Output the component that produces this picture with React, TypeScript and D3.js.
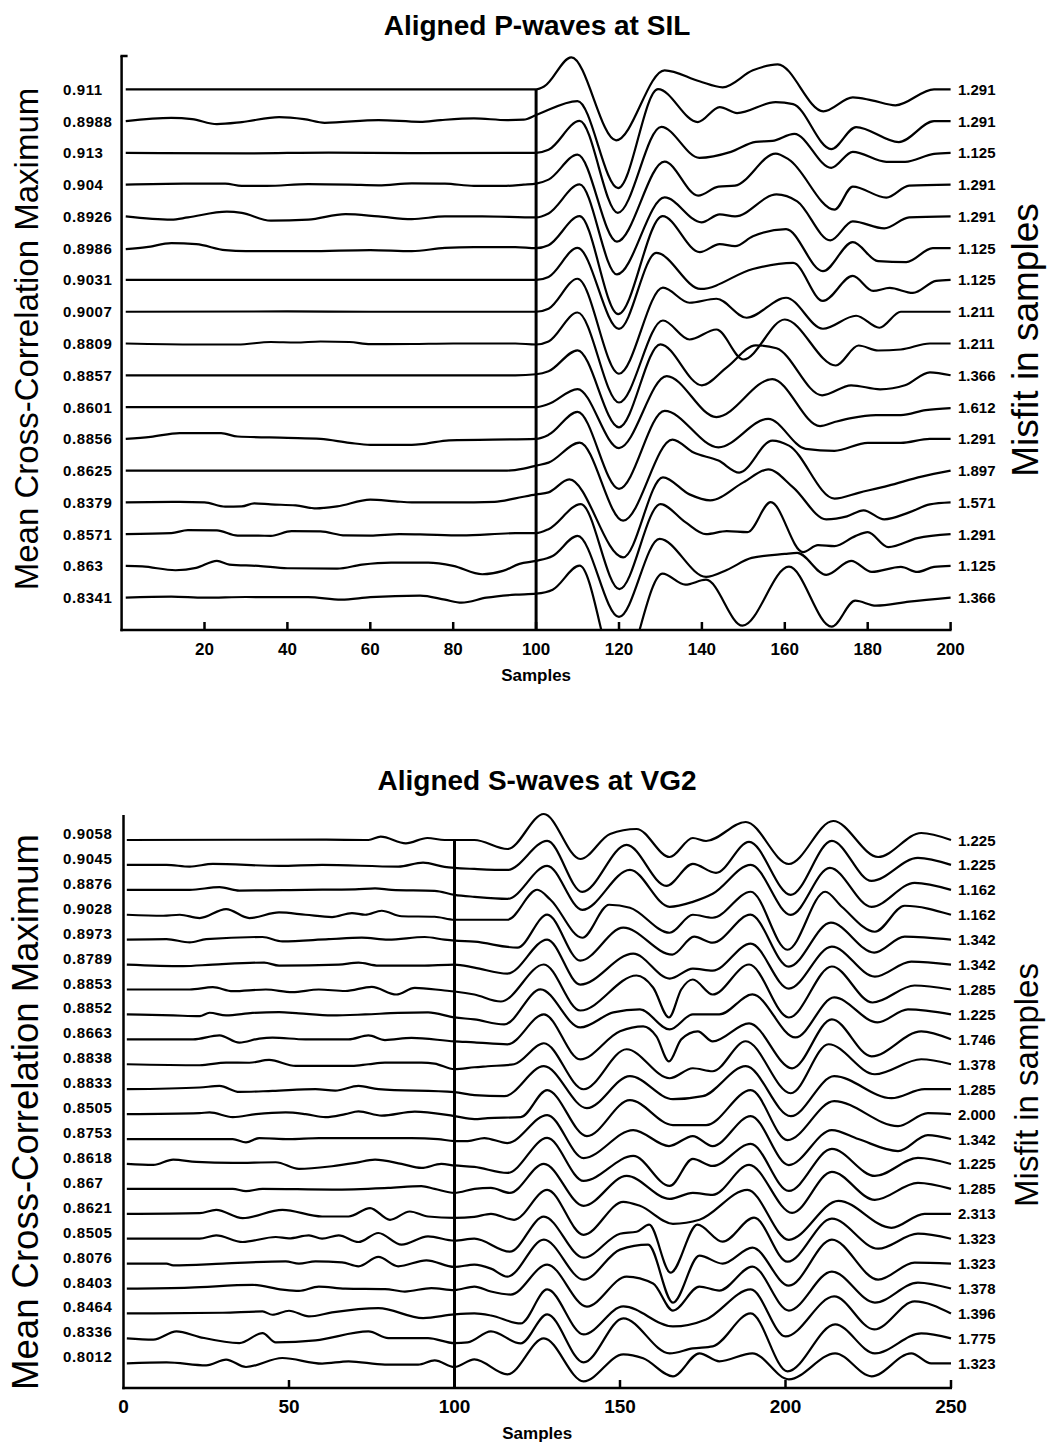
import React from 'react';
import * as d3 from 'd3';

type Pt = [number, number];

const FONT = "'Liberation Sans', Arial, Helvetica, sans-serif";

// ---------------- P-waves at SIL ----------------
const pTitle = 'Aligned P-waves at SIL';
const pCorr = ['0.911', '0.8988', '0.913', '0.904', '0.8926', '0.8986', '0.9031', '0.9007', '0.8809', '0.8857', '0.8601', '0.8856', '0.8625', '0.8379', '0.8571', '0.863', '0.8341'];
const pMisfit = ['1.291', '1.291', '1.125', '1.291', '1.291', '1.125', '1.125', '1.211', '1.211', '1.366', '1.612', '1.291', '1.897', '1.571', '1.291', '1.125', '1.366'];
const pTicks = [20, 40, 60, 80, 100, 120, 140, 160, 180, 200];

// noise before the pick (sample, amplitude)
const pPre: Pt[][] = [
  [[1, 0], [100, 0]],
  [[1, 0], [12, 3.3], [17, 2], [23, -3], [29, -1], [38, 4], [44, 2], [49, -1.7], [62, 1], [72, -0.7], [77, 1], [85, 2.7], [93, 1], [97, 1.5], [100, 6]],
  [[1, 0], [30, -0.5], [50, 0.3], [70, -0.3], [100, 0]],
  [[1, 0], [15, 1], [25, 1], [29, -1.3], [35, -1.3], [45, 0.5], [55, 0], [62, -0.7], [70, 1.2], [78, 1], [85, -1.3], [92, -1.3], [97, 0], [100, 1]],
  [[1, 0], [12, -3.3], [16, -1], [25.4, 4.7], [29, 3.5], [36, -4.3], [45, -3.3], [54, 2.3], [62, 0], [70, -2.7], [78, 0], [87, 0], [100, -1]],
  [[1, -1], [6, 1], [12, 5], [18, 4], [25, -2], [30, -3], [45, -3], [60, -2], [70, -3], [78, 0.3], [85, 1], [95, 1], [100, 0]],
  [[1, 0], [100, 0]],
  [[1, 0], [40, 0.3], [60, 0], [100, 0]],
  [[1, 0], [18, -1], [28, -1], [36, 1.5], [42, 1], [48, 2], [55, 1.5], [60, -0.7], [70, -0.5], [80, 0], [95, 0], [100, -1]],
  [[1, 0], [95, 0], [100, 1]],
  [[1, 0], [100, 0]],
  [[1, 0], [7, 2], [14, 5.7], [24, 5.7], [28, 2.3], [40, 1], [48, 0], [55, -4], [60, -6], [70, -6], [73, -5], [79, -1.5], [100, 0]],
  [[1, 0], [93, 0], [97, 2], [100, 5]],
  [[1, 0], [14, 0.5], [20, 0], [25, -4.3], [29, -4], [32, -1], [36, -2], [42, -3], [47, -6], [52, -4], [60, 2.7], [66, 1], [70, 0], [80, 0], [90, 0.5], [95, 4], [100, 8]],
  [[1, 0], [12, 1], [16, 4], [23, 3.7], [28, -1.5], [33, -1.5], [36, -1.7], [41, 3], [48, 2.7], [54, -1.3], [60, -1.5], [67, 0], [72, -0.3], [82, -1.3], [95, 1], [100, 1]],
  [[1, 0], [5, -0.5], [13, -4.3], [18, -2], [23, 5], [26, 1.3], [33, 0], [40, -2.3], [52, -2.7], [58, 1.3], [65, 3.3], [74, 3.3], [80, 0], [87, -8.3], [92, -5], [96, 2], [100, 5]],
  [[1, 0], [12, 1], [20, 0], [30, 0.7], [45, 0.5], [53, -2], [60, 0.5], [72, 2], [78, -2], [82, -5], [88, 0], [95, 3], [100, 4]],
];

// aligned arrivals after the pick
const pPost: Pt[][] = [
  [[102, 3], [108.5, 32], [119.3, -51], [131, 19], [139.4, 8], [145, 2], [152.3, 19], [158.3, 25], [169.3, -22], [176.4, -8], [181, -11], [186.7, -16], [196, 0], [200, 0]],
  [[110, 20], [119.8, -67], [129.4, 32], [139, -1], [144.3, 14], [148.5, 8], [157.8, 19], [162, 17], [171.2, -28], [177.2, -6], [187.5, -21], [196, 0], [200, 0]],
  [[103, 3], [110.5, 32], [119.7, -60], [130.2, 26], [139.4, -5], [147, 1], [153, 11], [157, 12], [162.3, 19], [171.2, -15], [176.4, 1], [184.5, -9], [189, -9], [196, -1], [200, 0]],
  [[103, 5], [110, 30], [119.5, -57], [131, 23], [139.1, -11], [144, -2], [148, -1], [157.8, 31], [161, 25], [172, -25], [176.4, -2], [184.5, -13], [190, -1], [200, 0]],
  [[103, 3], [110.5, 32], [119.5, -58], [131, 19], [139.9, -6], [144.3, 2], [148, 0], [158, 22], [163, 15], [171, -24], [176.4, -5], [184, -12], [190, -1], [200, 0]],
  [[103, 3], [110.5, 32], [119.8, -66], [130.5, 32], [139.5, -4], [144.3, 4], [148, 2], [152.3, 12], [160.3, 19], [169.2, -23], [176.4, 6], [182.5, -13], [189.3, -14], [195.7, 0], [200, 0]],
  [[103, 3], [110, 32], [120, -49], [129, 27], [139.7, -9], [152.3, 11], [162, 17], [169.2, -21], [176.4, 4], [181.3, -11], [185.3, -8], [190.9, -13], [196.5, -1], [200, 0]],
  [[103, 3], [110, 33], [120, -62], [130.6, 24], [137, 9], [143.5, 13], [150.8, -6], [160.3, 14], [169.2, -17], [177.2, -4], [182.8, -16], [188, 0], [200, 0]],
  [[103, 2], [110, 31], [120, -59], [130.6, 23], [137, 4], [143.5, 14], [150, -16], [160, 24], [172.3, -22], [177.8, -2], [182.5, -7], [188, -6], [195, 0], [200, 0]],
  [[103, 4], [110, 25], [120, -52], [130, 31], [140, -10], [146, 8], [153, 30], [158, 27], [169, -20], [176, -10], [183, -14], [189, -10], [195, 3], [200, 0]],
  [[103, 3], [110, 18], [120, -41], [131.5, 31], [143.5, -10], [157, 28], [168.5, -19], [172, -15], [176, -11], [182, -8], [188, -8], [194, -3], [200, -1]],
  [[103, 4], [110, 27], [120, -50], [131, 28], [144, -8.5], [156, 20], [165, -10], [172, -12], [180, -4], [188, -4], [195, 0], [200, 0]],
  [[103, 8], [110.5, 28], [121, -50], [132.9, 31], [138, 18], [144, 10], [149, -2], [157, 30], [161, 25], [172, -28], [178, -22], [185, -15], [193, -6], [200, 0]],
  [[103, 10], [108, 23], [121, -55], [130.6, 25], [137, 8], [142, 2], [150, 20], [156, 33], [162, 15], [170, -17], [175, -14], [179, -8], [184, -17], [190, -10], [195, -2], [200, 0]],
  [[103, 5], [110.8, 30], [120.1, -55], [130, 30], [136, 12], [141, 0], [146, 3], [151, 2], [156.6, 32], [164.4, -18], [168, -11], [172, -12], [177, -2], [180, 2], [185, -13], [192, -4], [200, 0]],
  [[104, 10], [110, 30], [120, -51], [129.8, 27], [141, -11], [146, -4], [152, 8], [160, 12], [163, 13], [170, -9], [176, 5], [181, -6], [188, -1], [192, -6], [196, -1], [200, 0]],
  [[104, 8], [110.5, 32], [120, -80], [130.5, 24], [136, 13], [141, 18], [149.8, -28], [161, 31], [171.3, -29], [177, -3], [182, -8], [190, -4], [200, 0]],
];

// ---------------- S-waves at VG2 ----------------
const sTitle = 'Aligned S-waves at VG2';
const sCorr = ['0.9058', '0.9045', '0.8876', '0.9028', '0.8973', '0.8789', '0.8853', '0.8852', '0.8663', '0.8838', '0.8833', '0.8505', '0.8753', '0.8618', '0.867', '0.8621', '0.8505', '0.8076', '0.8403', '0.8464', '0.8336', '0.8012'];
const sMisfit = ['1.225', '1.225', '1.162', '1.162', '1.342', '1.342', '1.285', '1.225', '1.746', '1.378', '1.285', '2.000', '1.342', '1.225', '1.285', '2.313', '1.323', '1.323', '1.378', '1.396', '1.775', '1.323'];
const sTicks = [0, 50, 100, 150, 200, 250];

const sPre: Pt[][] = [
  [[1, 0], [60, 0.3], [74, 0], [77.7, 3.3], [85.3, -3.3], [91.8, 2], [97, 0], [100, 0]],
  [[1, 0], [13, 0], [20, -1.7], [27, 1], [47, -1], [60, 0], [83, -1.7], [90.5, 2.3], [97, -2], [100, -3]],
  [[1, 0], [20, 0], [29, 2.7], [35, -0.7], [55, 0], [70, 0.5], [76, 1.5], [81, 0], [94, -1], [100, -5]],
  [[1, 0], [12, -1], [17, 0], [23, -3.3], [31, 5.7], [38, -3.3], [47, 2.3], [55, 0], [63, -2.3], [69, 1.7], [73, 0], [78, 4], [84, -1.5], [94, -2], [100, -5]],
  [[1, 0], [13, 0.5], [20, -2.7], [25, 0.5], [42, 2.7], [48, -1.7], [62, 0.5], [72, 2], [80, 0], [91, 2.7], [97, 0], [100, -1]],
  [[1, 0], [18, -1.5], [27, 0], [42.5, 2], [47, -1], [65, 0], [71, 2], [77, -1], [90, -1], [100, 0]],
  [[1, 0], [20, 0], [27, 2.3], [33, -1.7], [43, 0], [51, -2.7], [59, 0], [67, -1.5], [75, 2.7], [82.4, -5], [88, 1.7], [97, -1], [100, -2]],
  [[1, 0], [15, -1], [23, -1.7], [26, 1.7], [31, -1], [39, 1.5], [47, 2.3], [53, 1], [63, -1], [73, 0], [83, 1.5], [92, 2], [100, -3]],
  [[1, 0], [21, 0], [29, 4], [35, -3.3], [41, 0.7], [45, 1.7], [55, 0], [68, 0], [74, 4], [79, -0.7], [87, 1.5], [100, -2]],
  [[1, 0], [23, -1], [31, 1.7], [38, 1.5], [44, 4.3], [52, -1.7], [69, -1.7], [74, 0], [79, 1.7], [90, 1.7], [94, 0.7], [100, -5]],
  [[1, 0], [23, 1.7], [29, 3.3], [35, -2.7], [45, -1.7], [58, 0], [64, -1.5], [71, 3.3], [77, 0], [100, -3]],
  [[1, 0], [23, 1], [26, 1.7], [33, -3], [40, 0], [49, 1.7], [55, 0], [61, -3], [67, 0], [71, 2.7], [78, -1.5], [88, 2.5], [100, -2]],
  [[1, 0], [33, 0], [37, -3.3], [41, 1], [50, 0], [59, 1], [80, 1], [87, 1], [95, 0], [100, -2]],
  [[1, 0], [9, -1], [15, 4.3], [22, 2], [33, 1], [46, 1.7], [53, -5], [63, -2.3], [70, 1], [76, 4.3], [84, 0], [90, -4], [96, 0], [100, -1.5]],
  [[1, 0], [33, 0], [37, -2.3], [42, 0], [63, -0.7], [80, 1], [90, 2.7], [94, 0], [100, -4]],
  [[1, 0], [23, 0.7], [28, 4], [36, -4.3], [48, 4], [60, -2.7], [68, -2.7], [74.5, 5.7], [80.5, -6], [86.5, 2.3], [92, -2.7], [100, -4]],
  [[1, 0], [23, 0], [28, 3.3], [36, -3.3], [46, 1.7], [50, 0.3], [56, 3.3], [60, 0], [65, 3.3], [71, -3.3], [77, 5.7], [84, -6], [92, 2.3], [100, -2]],
  [[1, 0], [13, 0], [15, -1.7], [30, 0], [49, 2.3], [53, 0], [58, 2.3], [66, 1.3], [71, -2.7], [77, 6.7], [83, -2.7], [91.5, 3.3], [100, -3.3]],
  [[1, 0], [20, 1], [39, 3.7], [48, -1], [53, -2.3], [59, 2], [67, 0], [79, -0.5], [85, -3], [93, 0.5], [100, -1.5]],
  [[1, 0], [30, 0.7], [42, 2], [45, -1.3], [50, 2.7], [56, -3], [63, 1], [77, 5.3], [90.5, -4.7], [100, -1]],
  [[1, 0], [9, -1.3], [16, 7], [23, 1.3], [35, -4.7], [42, 5.3], [46, -4], [58, -2], [74, 7], [80, 0.3], [92, 0.3], [100, -4.7]],
  [[1, 0], [13, 1], [25, -2], [31, 3.7], [37, -3.7], [48, 5.3], [60, -0.3], [68, 2], [79, -1.3], [89, -1.3], [94, 3], [100, -3.7]],
];

const sPost: Pt[][] = [
  [[106, 0], [116, -9], [127, 26], [138, -19], [147, 6], [155, 11], [165, -17], [172, 2], [176, -1], [188, 18], [201, -24], [214.4, 19], [228, -17], [241, 7], [250, 0]],
  [[106, -4], [116, -5], [128, 24], [138.6, -27], [152, 20], [164, -21], [172, 1], [179, -8], [189, 23], [201.6, -30], [214, 24], [226, -16], [240, 7], [250, 0]],
  [[106, -7], [116, -9], [128, 24], [138.6, -20], [153, 20], [165, -17], [172, -12], [178, -4], [189.5, 25], [201.6, -25], [213.4, 22], [226, -17], [239, 7], [250, 0]],
  [[106, -5], [116, -5], [125, 25], [129, 15], [138.6, -23], [146.7, 10], [153, 7], [165, -18], [172, 0], [178, -3], [189.5, 23], [200.6, -35], [212, 23], [217, 8], [227, -17], [236, 9], [250, 0]],
  [[106, -2], [119, -8], [128, 25], [138, -21], [151, 12], [165.8, -15], [172.4, 3], [178, -3], [189.4, 25], [201, -27], [213.7, 17], [226.8, -13], [236, 3], [250, 0]],
  [[106, -3], [116, -9], [128, 25], [138, -20], [154, 11], [165, -14], [172, -4], [178, -6], [189.5, 21], [201, -24], [214, 18], [227, -12], [238, 3], [250, 0]],
  [[106, -5], [114, -12], [127, 25], [138, -21], [155, 14], [160, 2], [164.8, -28], [168.5, 0], [172, 10], [178, -5], [189, 25], [201, -28], [214, 23], [226.3, -13], [239, 4], [250, 0]],
  [[106, -5], [115, -10], [126, 25], [138, -13], [148, 2], [156, 5], [165, -15], [172, 0], [180, 0], [190, 20], [203, -23], [214.7, 17], [227.8, -8], [237, 5], [250, 0]],
  [[106, -3], [116, -5], [127, 25], [138, -20], [150, 8], [157, 13], [161, 3], [164.8, -22], [168.5, 0], [173.5, 8], [178, -2], [189, 16], [202, -29], [214, 20], [226, -17], [241, 8], [250, 0]],
  [[106, -3], [110, -2], [118, 0], [127, 21], [139, -25], [152, 15], [165, -14], [172, -4], [178, -7], [188, 23], [201.6, -29], [213, 20], [227, -10], [241, 5], [250, 0]],
  [[106, -6], [115, -7], [127, 23], [140, -19], [153, 13], [166, -10], [175, -7], [188, 23], [201.6, -27], [214.7, 13], [232, -9], [242, 0], [250, 0]],
  [[106, -5], [110, -4], [120, -3], [128, 24], [140, -22], [153, 14], [166, -11], [176, -11], [189.5, 24], [200.6, -26], [214.7, 13], [234, -12], [243, 1], [250, 0]],
  [[104, -2], [109, 1], [116, -4], [128, 24], [139, -19], [154, 9], [164.8, -7], [172, 3], [178, -7], [189.5, 23], [201, -26], [214, 9], [222, 0], [234, -12], [243, 4], [250, 0]],
  [[106, -3], [116, -9], [128, 26], [139, -17], [154, 8], [165, -22], [172, 5], [178, -2], [189.5, 20], [201, -27], [214, 15], [227, -12], [240, 6], [250, 0]],
  [[106, 0], [111, 1], [116.7, -4], [127, 25], [139, -17], [152, 13], [165, -10], [172, -4], [178, -6], [189, 24], [202, -24], [214, 17], [227, -11], [240, 6], [250, 0]],
  [[106, -3], [111, 0], [118, -6], [128, 24], [139, -21], [151, 12], [156, 8], [166, -10], [174, -6], [188.5, 24], [201, -26], [216, 13], [232, -14], [242, 0], [250, 0]],
  [[106, 0], [116.7, -13], [127, 22], [139, -19], [150, 5], [155, 7], [158.8, 14], [165.3, -34], [173.4, 14], [181, -3], [190.5, 21], [200.6, -23], [214, 20], [228, -10], [240, 5], [250, 0]],
  [[106, -1], [111, -5], [116, -13], [127, 24], [139, -16], [150, 14], [158.5, 19], [166, -39], [174, 8], [181, 0], [190, 16], [201, -22], [214, 24], [228, -16], [239, 1], [250, 0]],
  [[106, 2], [111, -3], [117, -6], [128, 24], [140, -18], [152, 12], [160, 5], [166, -22], [174, 2], [180, -2], [190, 22], [201, -22], [214, 17], [227, -14], [240, 6], [250, 0]],
  [[106, 0], [111, -2], [120, -10], [128, 24], [139, -21], [151, 7], [166, -13], [176, -6], [189.5, 24], [200, -23], [214.7, 17], [226.8, -16], [239, 12], [250, 0]],
  [[104, -4], [111, 7], [120, -5], [128, 24], [139, -24], [151, 20], [165, -15], [172, -10], [178, -8], [189.5, 25], [200.6, -33], [215, 14], [227, -15], [241, 5], [250, 0]],
  [[106, 4], [116, -11], [127, 25], [139, -18], [151, 9], [157, 5], [166, -13], [174, 10], [180, 2], [190, 10], [201, -16], [215, 10], [226, -13], [238, 10], [244, 0], [250, 0]],
];

type PanelCfg = {
  id: string;
  title: string;
  titleY: number;
  corr: string[];
  misfit: string[];
  pre: Pt[][];
  post: Pt[][];
  xDomain: [number, number];
  xRange: [number, number];
  firstY: number;
  lastY: number;
  axisTop: number;
  axisBottom: number;
  pick: number;
  ticks: number[];
  tickFont: number;
  tickLabelY: number;
  samplesY: number;
  samplesFont: number;
  leftLabelDy: number;
  leftTitleY: number;
  leftTitleFont: number;
  rightTitleY: number;
  rightTitleFont: number;
  topTick: boolean;
};

function Panel({ c }: { c: PanelCfg }) {
  const x = d3.scaleLinear().domain(c.xDomain).range(c.xRange);
  const row = d3.scaleLinear().domain([0, c.corr.length - 1]).range([c.firstY, c.lastY]);
  const amp = d3.scaleLinear().domain([0, 1]).range([0, -1]);
  const traces = c.pre.map((pre, i) => pre.concat(c.post[i].filter((p) => p[0] > pre[pre.length - 1][0])));
  const line = (i: number) =>
    d3
      .line<Pt>()
      .x((d) => x(d[0]))
      .y((d) => row(i) + amp(d[1]))
      .curve(d3.curveMonotoneX);
  const x0 = c.xRange[0];
  const x1 = c.xRange[1];
  const mid = (x0 + x1) / 2;
  return (
    <g>
      <defs>
        <clipPath id={`clip-${c.id}`}>
          <rect x={x0} y={c.axisTop - 40} width={x1 - x0 + 4} height={c.axisBottom - c.axisTop + 40} />
        </clipPath>
      </defs>
      <text x={537} y={c.titleY} textAnchor="middle" fontFamily={FONT} fontWeight="bold" fontSize={28}>
        {c.title}
      </text>
      <g clipPath={`url(#clip-${c.id})`}>
        {traces.map((t, i) => (
          <path key={i} d={line(i)(t) || ''} fill="none" stroke="#000" strokeWidth={2.2} strokeLinejoin="round" />
        ))}
      </g>
      <line x1={x(c.pick)} x2={x(c.pick)} y1={row(0)} y2={c.axisBottom} stroke="#000" strokeWidth={3} />
      <line x1={x0} x2={x0} y1={c.axisTop} y2={c.axisBottom + 1.2} stroke="#000" strokeWidth={2.5} />
      {c.topTick && <line x1={x0 - 1.2} x2={x0 + 6} y1={c.axisTop} y2={c.axisTop} stroke="#000" strokeWidth={2.5} />}
      <line x1={x0 - 1.2} x2={x1 + 1} y1={c.axisBottom} y2={c.axisBottom} stroke="#000" strokeWidth={2.5} />
      {c.ticks
        .filter((t) => t > c.xDomain[0])
        .map((t) => (
          <line key={t} x1={x(t)} x2={x(t)} y1={c.axisBottom} y2={c.axisBottom - 8} stroke="#000" strokeWidth={2.5} />
        ))}
      {c.ticks.map((t) => (
        <text key={t} x={x(t)} y={c.tickLabelY} textAnchor="middle" fontFamily={FONT} fontWeight="bold" fontSize={c.tickFont}>
          {t}
        </text>
      ))}
      <text x={mid} y={c.samplesY} textAnchor="middle" fontFamily={FONT} fontWeight="bold" fontSize={c.samplesFont}>
        Samples
      </text>
      {c.corr.map((l, i) => (
        <text key={i} x={63} y={row(i) + c.leftLabelDy} fontFamily={FONT} fontWeight="bold" fontSize={15} letterSpacing={0.6} dominantBaseline="central">
          {l}
        </text>
      ))}
      {c.misfit.map((l, i) => (
        <text key={i} x={958} y={row(i)} fontFamily={FONT} fontWeight="bold" fontSize={15} dominantBaseline="central">
          {l}
        </text>
      ))}
      <text transform={`translate(38,${c.leftTitleY}) rotate(-90)`} textAnchor="middle" fontFamily={FONT} fontSize={c.leftTitleFont}>
        Mean Cross-Correlation Maximum
      </text>
      <text transform={`translate(1038,${c.rightTitleY}) rotate(-90)`} textAnchor="middle" fontFamily={FONT} fontSize={c.rightTitleFont}>
        Misfit in samples
      </text>
    </g>
  );
}

const topCfg: PanelCfg = {
  id: 'p',
  title: pTitle,
  titleY: 35,
  corr: pCorr,
  misfit: pMisfit,
  pre: pPre,
  post: pPost,
  xDomain: [0, 200],
  xRange: [121.6, 950.6],
  firstY: 89.3,
  lastY: 597.7,
  axisTop: 56,
  axisBottom: 630,
  pick: 100,
  ticks: pTicks,
  tickFont: 17,
  tickLabelY: 655,
  samplesY: 681,
  samplesFont: 17,
  leftLabelDy: 0,
  leftTitleY: 339,
  leftTitleFont: 33,
  rightTitleY: 340,
  rightTitleFont: 37,
  topTick: true,
};

const bottomCfg: PanelCfg = {
  id: 's',
  title: sTitle,
  titleY: 790,
  corr: sCorr,
  misfit: sMisfit,
  pre: sPre,
  post: sPost,
  xDomain: [0, 250],
  xRange: [123.5, 951],
  firstY: 840,
  lastY: 1363.3,
  axisTop: 815,
  axisBottom: 1388,
  pick: 100,
  ticks: sTicks,
  tickFont: 19,
  tickLabelY: 1413,
  samplesY: 1439,
  samplesFont: 17,
  leftLabelDy: -6.5,
  leftTitleY: 1112,
  leftTitleFont: 36.5,
  rightTitleY: 1085,
  rightTitleFont: 33,
  topTick: false,
};

export default function App() {
  return (
    <svg width={1048} height={1446} viewBox="0 0 1048 1446" style={{ position: 'absolute', left: 0, top: 0, background: '#fff' }}>
      <rect x={0} y={0} width={1048} height={1446} fill="#fff" />
      <Panel c={topCfg} />
      <Panel c={bottomCfg} />
    </svg>
  );
}
